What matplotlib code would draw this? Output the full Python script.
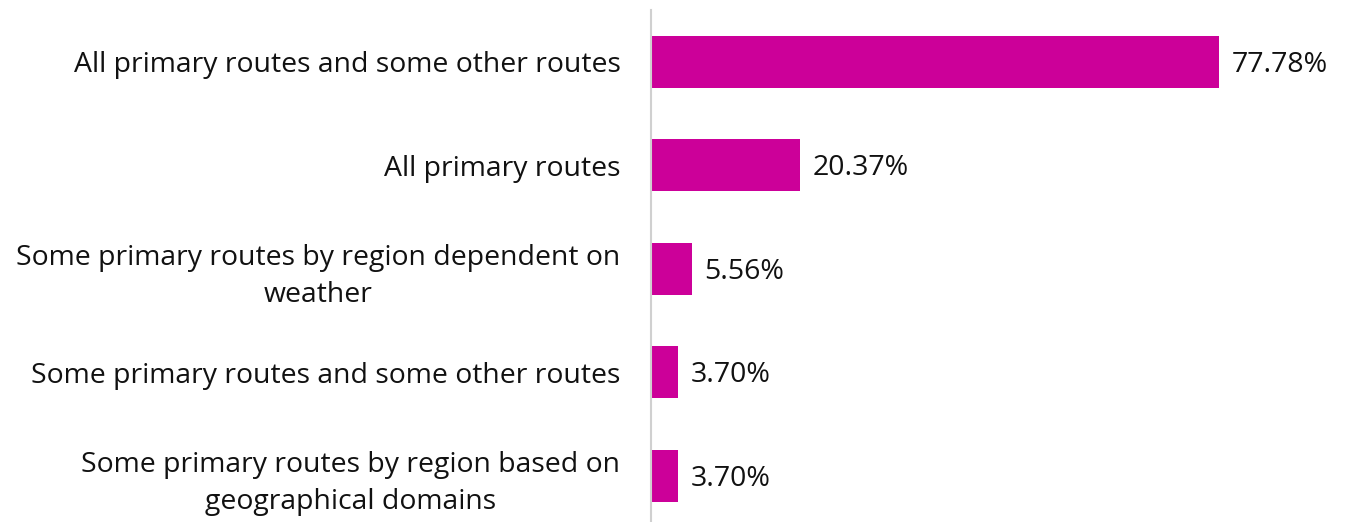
import matplotlib
matplotlib.use("Agg")
import matplotlib.pyplot as plt

categories = [
    "All primary routes and some other routes",
    "All primary routes",
    "Some primary routes by region dependent on\nweather",
    "Some primary routes and some other routes",
    "Some primary routes by region based on\ngeographical domains",
]
values = [77.78, 20.37, 5.56, 3.70, 3.70]
value_labels = ["77.78%", "20.37%", "5.56%", "3.70%", "3.70%"]

plt.rcParams["font.family"] = ["Open Sans", "DejaVu Sans"]

W, H = 1346, 522
fig = plt.figure(figsize=(W / 100, H / 100), dpi=100)
ax = fig.add_axes([651 / W, 0, 1 - 651 / W, (H - 10) / H])

bar_color = "#CC0099"
y = list(range(len(categories)))
ax.barh(y, values, height=0.5, color=bar_color)

px_per_unit = 103.5
ax.set_ylim(-0.5 + (H - 10) / px_per_unit, -0.5)
ax.set_xlim(0, (W - 651) / 7.30)

for yi, v, lab in zip(y, values, value_labels):
    ax.annotate(lab, (v, yi), xytext=(9, -2), textcoords="offset points",
                va="center", ha="left", fontsize=20.5, color="#111111")

ax.set_yticks(y)
ax.set_yticklabels(categories, fontsize=20.4, color="#111111", ha="right",
                   multialignment="center", linespacing=1.4)
ax.tick_params(axis="y", length=0, pad=22)
ax.set_xticks([])
for s in ["top", "right", "bottom"]:
    ax.spines[s].set_visible(False)
ax.spines["left"].set_color("#D0D0D0")
ax.spines["left"].set_linewidth(1.5)

fig.savefig("out.png", dpi=100)
